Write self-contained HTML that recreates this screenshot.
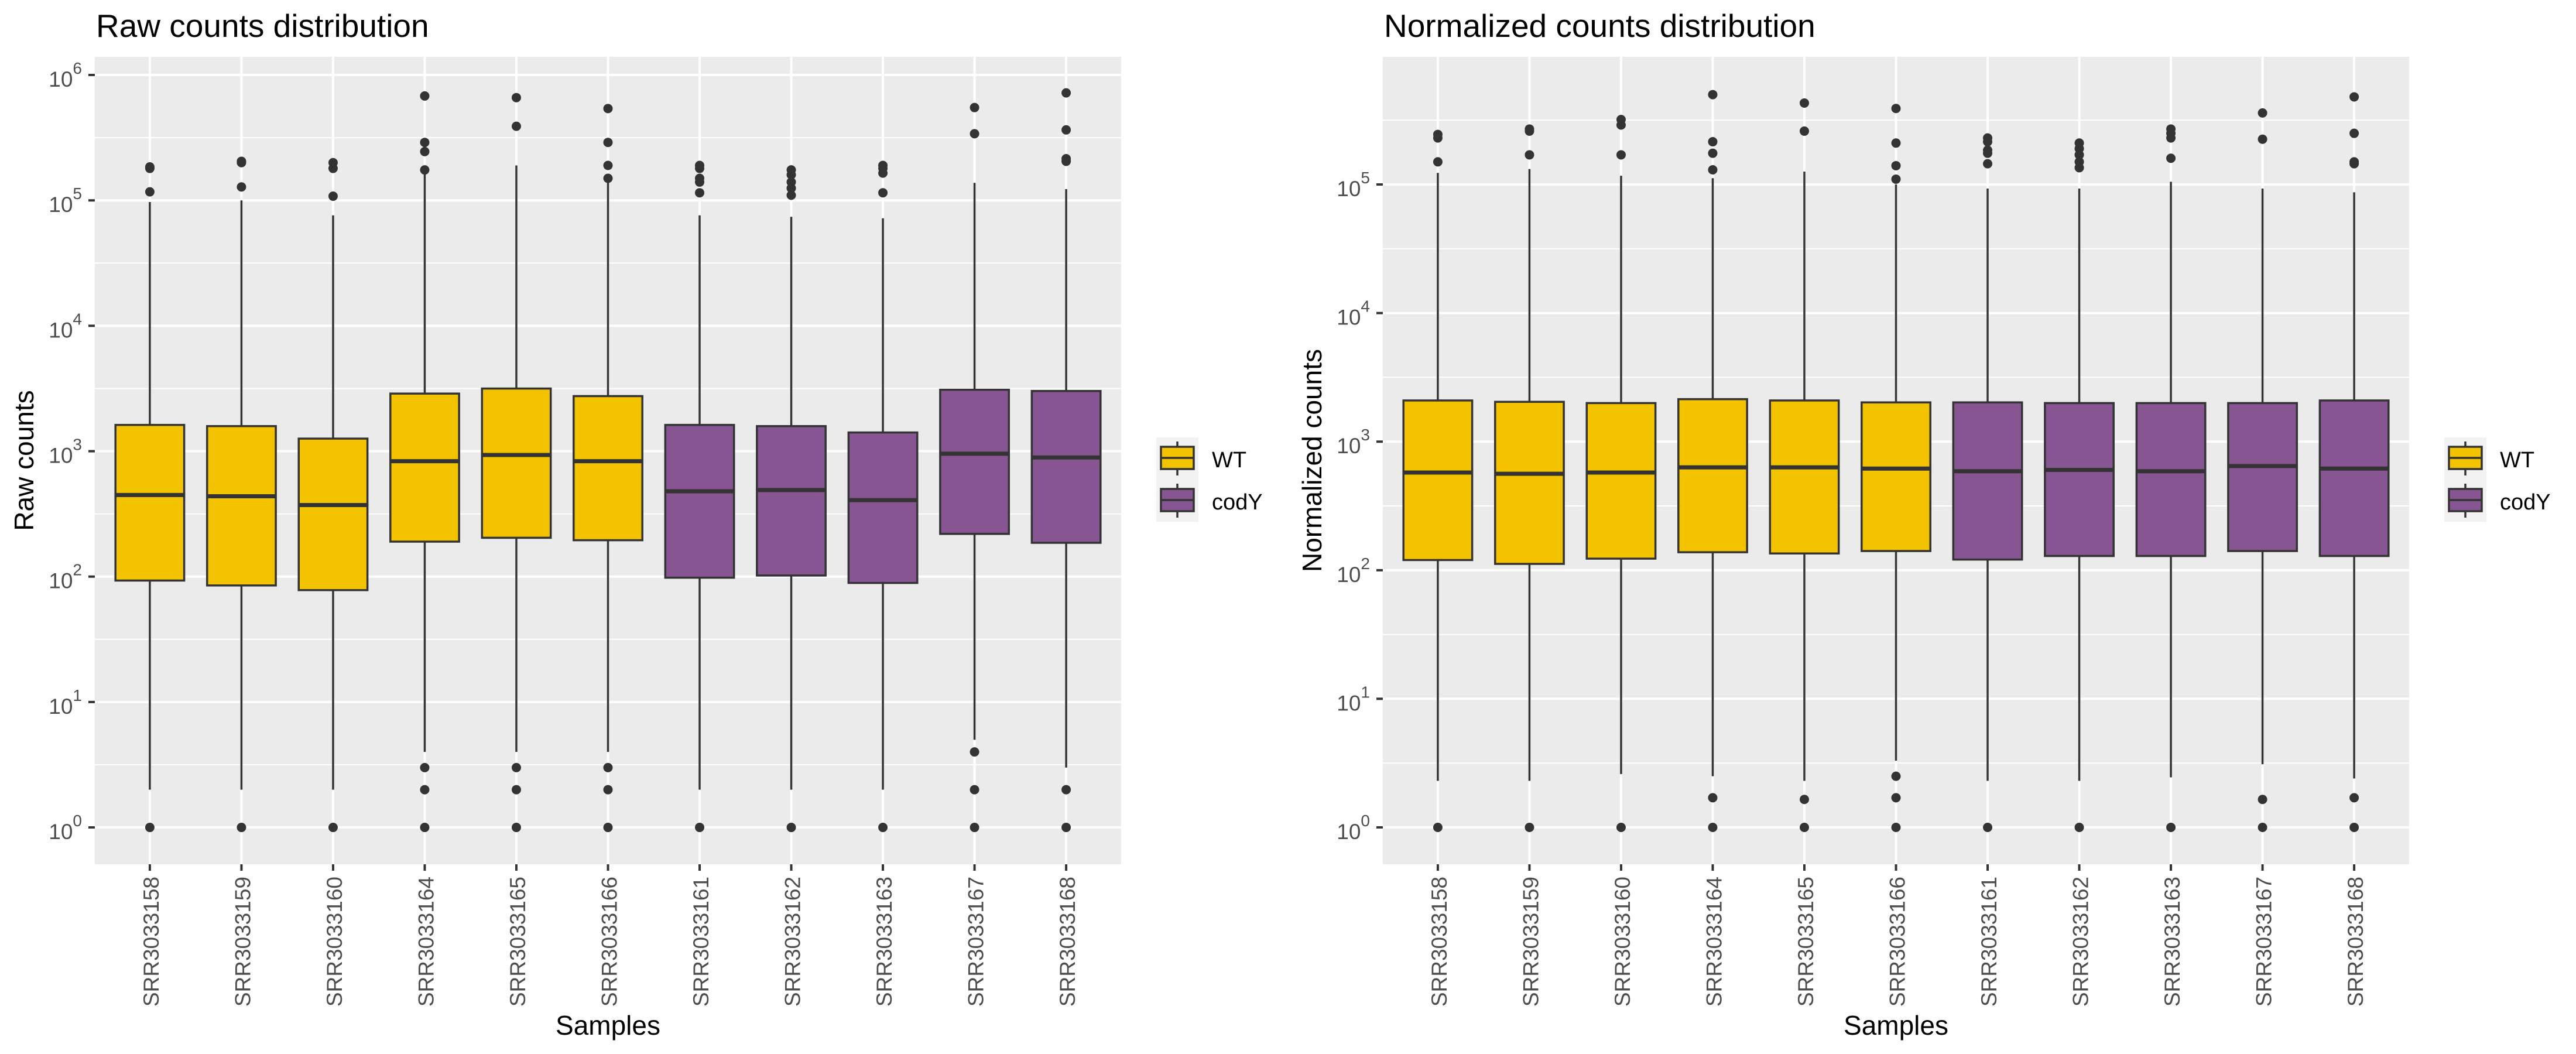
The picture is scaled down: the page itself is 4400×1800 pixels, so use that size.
<!DOCTYPE html>
<html><head><meta charset="utf-8"><style>
html,body{margin:0;padding:0;background:#fff;}
svg{display:block;font-family:"Liberation Sans",Arial,sans-serif;}
</style></head><body>
<svg id="chart" width="4400" height="1800" viewBox="0 0 4400 1800" xmlns="http://www.w3.org/2000/svg"></svg>
<script>
const samples = ["SRR3033158","SRR3033159","SRR3033160","SRR3033164","SRR3033165","SRR3033166","SRR3033161","SRR3033162","SRR3033163","SRR3033167","SRR3033168"];
const groups = ["WT","WT","WT","WT","WT","WT","codY","codY","codY","codY","codY"];
const yTickExps = [0,1,2,3,4,5,6];

const rawQ1 = [93,85,78,190,204,195,98,102,89,219,186];
const rawMed = [447,437,372,832,933,832,479,490,407,955,891];
const rawQ3 = [1620,1585,1260,2880,3160,2750,1620,1585,1410,3090,3020];
const rawLo = [2,2,2,4,4,4,2,2,2,5,3];
const rawHi = [97000,100000,76000,162000,190000,138000,76000,74000,72000,138000,123000];
const rawOut = [[1,117000,180000,185000],[1,128000,200000,205000],[1,108000,180000,200000],
 [1,2,3,175000,245000,290000,680000],[1,2,3,390000,660000],[1,2,3,150000,190000,290000,540000],
 [1,115000,140000,150000,180000,190000],[1,110000,125000,140000,160000,175000],[1,115000,165000,180000,190000],
 [1,2,4,340000,550000],[1,2,205000,215000,365000,720000]];

const normQ1 = [120,112,123,138,135,141,121,129,129,141,129];
const normMed = [575,562,575,631,631,617,589,603,589,646,617];
const normQ3 = [2090,2040,1995,2140,2090,2020,2020,1995,1995,1995,2090];
const normLo = [2.3,2.3,2.6,2.5,2.3,3.3,2.3,2.3,2.45,3.1,2.4];
const normHi = [123000,132000,117000,112000,126000,100000,93000,93000,105000,93000,87000];
const normOut = [[1,150000,230000,245000],[1,170000,260000,270000],[1,170000,290000,320000],
 [1,1.7,130000,175000,215000,500000],[1,1.65,260000,430000],[1,1.7,2.5,110000,140000,210000,390000],
 [1,145000,175000,185000,215000,230000],[1,135000,150000,170000,190000,210000],[1,160000,230000,250000,270000],
 [1,1.65,225000,360000],[1,1.7,145000,150000,250000,480000]];

const NS="http://www.w3.org/2000/svg";
const svg=document.getElementById('chart');
const fills={WT:"#F4C300",codY:"#875692"};
function mk(tag,attrs,parent){const e=document.createElementNS(NS,tag);for(const k in attrs)e.setAttribute(k,attrs[k]);(parent||svg).appendChild(e);return e;}

function panel(ox,title,ytitle,dom,Q1,Med,Q3,Lo,Hi,Out,key){
  const L=ox+162,R=ox+1915,T=97,B=1476;
  const y=v=>B-(Math.log10(v)-dom[0])/(dom[1]-dom[0])*(B-T);
  const step=(R-L)/(samples.length-1+1.2);
  const x=i=>L+step*(0.6+i);
  const g=mk('g',{});
  
  
  const bg=mk('rect',{x:L,y:T,width:R-L,height:B-T,fill:"#EBEBEB"},g);
  
  
  // minor grid
  for(let e=Math.ceil(dom[0]-0.5);e<=dom[1];e++){const v=e+0.5;if(v>dom[0]&&v<dom[1]){const yy=y(Math.pow(10,v));
    const l=mk('line',{x1:L,x2:R,y1:yy,y2:yy,stroke:"#fff","stroke-width":2},g);
    
    }}
  yTickExps.forEach(e=>{if(e<dom[0]||e>dom[1])return;const yy=y(Math.pow(10,e));
    const l=mk('line',{x1:L,x2:R,y1:yy,y2:yy,stroke:"#fff","stroke-width":4},g);
    
    
    const t=mk('line',{x1:L-11,x2:L,y1:yy,y2:yy,stroke:"#333","stroke-width":4},g);
    
    
    const tx=mk('text',{x:L-22,y:yy+20,"text-anchor":"end","font-size":37,fill:"#4D4D4D"},g);
    
    
    const a=mk('tspan',{},tx);a.textContent="10";
    const b=mk('tspan',{dy:-22,"font-size":28},tx);b.textContent=String(e);
  });
  samples.forEach((s,i)=>{const xx=x(i);
    const l=mk('line',{x1:xx,x2:xx,y1:T,y2:B,stroke:"#fff","stroke-width":4},g);
    
    
    const t=mk('line',{x1:xx,x2:xx,y1:B,y2:B+11,stroke:"#333","stroke-width":4},g);
    
    
    const tx=mk('text',{x:0,y:0,transform:`translate(${xx+15},1497) rotate(-90)`,"text-anchor":"end","font-size":37,fill:"#4D4D4D"},g);
    
    
    tx.textContent=s;
  });
  const hw=step*0.375;
  samples.forEach((s,i)=>{const xx=x(i);
    const bx=mk('g',{},g);
    
    
    mk('line',{x1:xx,x2:xx,y1:y(Q3[i]),y2:y(Hi[i]),stroke:"#333","stroke-width":3.5},bx);
    mk('line',{x1:xx,x2:xx,y1:y(Q1[i]),y2:y(Lo[i]),stroke:"#333","stroke-width":3.5},bx);
    mk('rect',{x:xx-hw,y:y(Q3[i]),width:2*hw,height:y(Q1[i])-y(Q3[i]),fill:fills[groups[i]],stroke:"#333","stroke-width":3.5},bx);
    mk('line',{x1:xx-hw,x2:xx+hw,y1:y(Med[i]),y2:y(Med[i]),stroke:"#333","stroke-width":7},bx);
    Out[i].forEach(v=>{const c=mk('circle',{cx:xx,cy:y(v),r:8,fill:"#333"},bx);
      
      });
  });
  const tt=mk('text',{x:ox+164,y:63,"font-size":55,fill:"#000"});
  
  
  tt.textContent=title;
  const xt=mk('text',{x:(L+R)/2,y:1767,"text-anchor":"middle","font-size":46,fill:"#000"});
  
  
  xt.textContent="Samples";
  const yt=mk('text',{x:0,y:0,transform:`translate(${ox+57},${(T+B)/2}) rotate(-90)`,"text-anchor":"middle","font-size":46,fill:"#000"});
  
  
  yt.textContent=ytitle;
  // legend
  const lg=mk('g',{});
  
  
  mk('rect',{x:ox+1975,y:747,width:72,height:144,fill:"#F2F2F2"},lg);
  ["WT","codY"].forEach((n,j)=>{const y0=747+72*j,cx=ox+2011;
    const en=mk('g',{},lg);
    
    
    mk('line',{x1:cx,x2:cx,y1:y0+7,y2:y0+65,stroke:"#333","stroke-width":3.5},en);
    mk('rect',{x:ox+1983,y:y0+16,width:56,height:38,fill:fills[n],stroke:"#333","stroke-width":3.5},en);
    mk('line',{x1:ox+1983,x2:ox+2039,y1:y0+35,y2:y0+35,stroke:"#333","stroke-width":3.5},en);
    const t=mk('text',{x:ox+2070,y:y0+51,"font-size":38,fill:"#000"},en);t.textContent=n;
  });
}
panel(0,"Raw counts distribution","Raw counts",[-0.294,6.145],rawQ1,rawMed,rawQ3,rawLo,rawHi,rawOut,"raw");
panel(2200,"Normalized counts distribution","Normalized counts",[-0.287,5.993],normQ1,normMed,normQ3,normLo,normHi,normOut,"norm");
</script>
</body></html>
